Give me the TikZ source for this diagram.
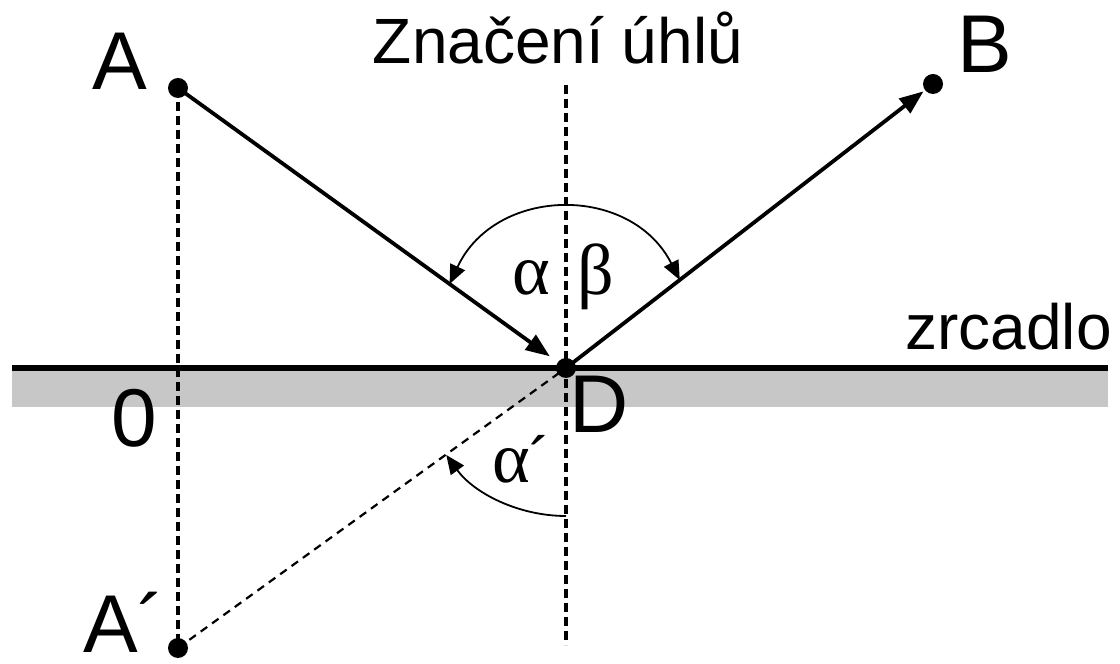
\documentclass[tikz,border=0pt]{standalone}
\usepackage{fontspec}
\setmainfont{Liberation Sans}
\newfontfamily\greekfont{Liberation Serif}
\usetikzlibrary{arrows.meta, positioning, calc}
\definecolor{mirrorgray}{RGB}{200, 199, 199}
\tikzset{
  dot/.style={circle, fill=black, minimum size=20pt, inner sep=0pt},
  bigletter/.style={font=\fontsize{82}{90}\selectfont, inner sep=0pt, anchor=base},
  midtext/.style={font=\fontsize{64}{70}\selectfont, inner sep=0pt, anchor=base},
  greektext/.style={font=\fontsize{72}{80}\selectfont\greekfont, inner sep=0pt, anchor=base},
  ray/.style={line width=3.8pt, -{Triangle[length=24pt, width=18pt]}},
  helpline/.style={line width=3.2pt, dash pattern=on 9pt off 5pt},
  imageline/.style={line width=2.2pt, dash pattern=on 8pt off 6pt},
  anglearc/.style={line width=1.8pt}
}

\begin{document}
\begin{tikzpicture}[x=1pt, y=1pt]
    \useasboundingbox (0,0) rectangle (1120,664);

    % Mirror
    \fill[mirrorgray] (12,257) rectangle (1108,293);
    \coordinate (mleft) at (12,296);
    \coordinate (mright) at (1108,296);
    \draw[line width=6pt] (mleft) -- (mright);

    % Points
    \node[dot] (A) at (178,576) {};
    \node[dot] (B) at (933,580) {};
    \node[dot] (D) at (566,296) {};
    \node[dot] (Ai) at (178,16) {};
    \coordinate (ntop) at (566,579);
    \coordinate (nbot) at (566,19);

    % Dashed helper lines
    \draw[helpline] (A.center) -- (Ai.center);
    \draw[helpline] (ntop) -- (nbot);
    \draw[imageline] (Ai.center) -- (D.center);

    % Rays
    \draw[ray, shorten >=20pt] (A.center) -- (D.center);
    \draw[ray, shorten >=12pt] (D.center) -- (B.center);

    % Angles
    \coordinate (la) at ($(D.center)!0.30!(A.center)$);
    \coordinate (rb) at ($(D.center)!0.31!(B.center)$);
    \draw[anglearc, {Triangle[length=19pt, width=16pt]}-{Triangle[length=19pt, width=16pt]}]
        (la) to[bend left=64, looseness=1.2] (rb);
    \coordinate (ab) at ($(D.center)+(270:148)$);
    \draw[anglearc, -{Triangle[length=19pt, width=16pt]}]
        (ab) arc[start angle=270, end angle=216, radius=148];

    % Labels
    \node[midtext] (title) at (558,600) {Značení úhlů};
    \node[bigletter] (lA) at (120,574) {A};
    \node[bigletter] (lB) at (985,591) {B};
    \node[bigletter] (l0) at (134,217) {0};
    \node[bigletter] (lD) at (599,231) {D};
    \node[bigletter, anchor=base west] (lAi) at (83,11) {A´};
    \node[midtext, anchor=base east] (mirror) at (1112,314) {zrcadlo};
    \node[greektext] (alpha) at (531,369) {α};
    \node[greektext] (beta) at (596,369) {β};
    \node[greektext, anchor=base west] (alphai) at (492,181) {α\fontsize{64}{70}\selectfont\rmfamily´};
\end{tikzpicture}
\end{document}
